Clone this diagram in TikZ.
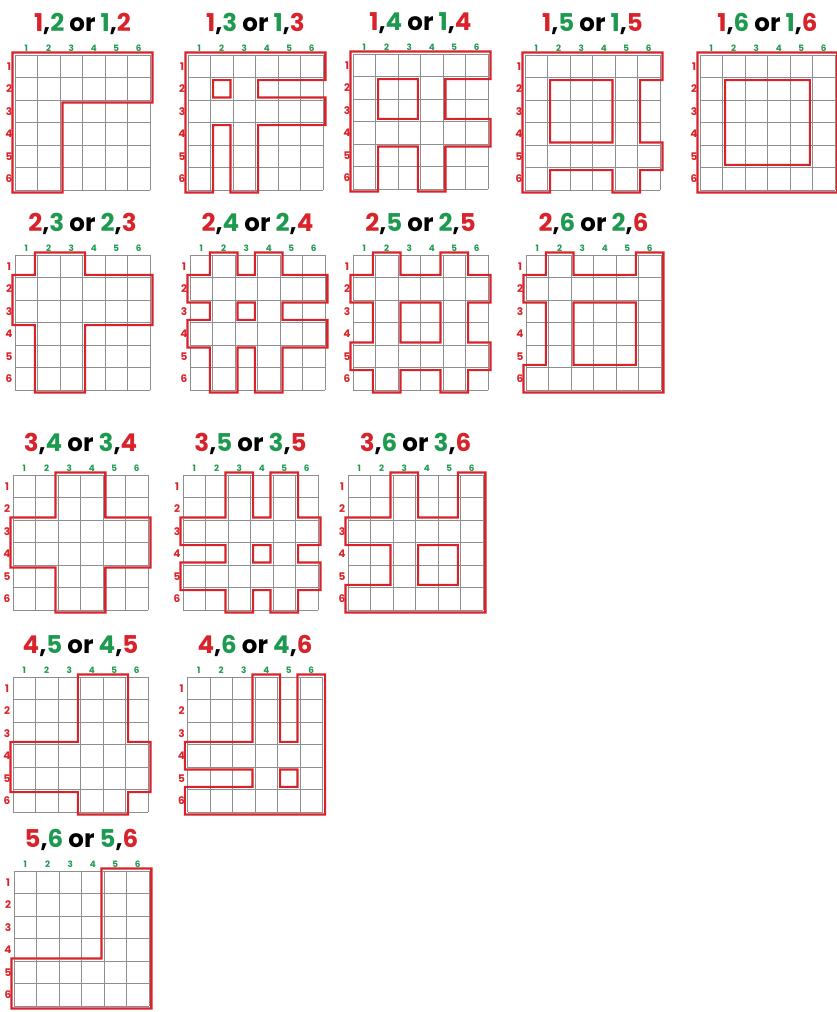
\documentclass[tikz,border=0pt]{standalone}
\usepackage{fontspec}
\setmainfont{Poppins}
\newfontfamily\tfont{Poppins}
\definecolor{pr}{HTML}{D9232A}
\definecolor{pg}{HTML}{1E9A50}
\definecolor{gl}{HTML}{8E8E8E}
\tikzset{
  gridline/.style={draw=gl, line width=0.8pt},
  titletext/.style={font=\tfont\bfseries\fontsize{24.5}{24.5}\selectfont, inner sep=0pt, anchor=center},
  collabel/.style={font=\tfont\bfseries\fontsize{8.8}{9}\selectfont, text=pg, inner sep=0pt},
  rowlabel/.style={font=\tfont\bfseries\fontsize{10.5}{10.5}\selectfont, text=pr, inner sep=0pt},
}
\newcommand\gridlines[2]{%
  \foreach \i in {0,...,6}{
    \draw[gridline] ({#1+\i*22.5},#2) -- ({#1+\i*22.5},{#2+135});
    \draw[gridline] (#1,{#2+\i*22.5}) -- ({#1+135},{#2+\i*22.5});
  }}
\newcommand\stripfill[6]{%
  \fill[#6] ({#1-#5},{#2+(#3-1)*22.5-#5}) rectangle ({#1+135+#5},{#2+#3*22.5+#5})
            ({#1-#5},{#2+(#4-1)*22.5-#5}) rectangle ({#1+135+#5},{#2+#4*22.5+#5})
            ({#1+(#3-1)*22.5-#5},{#2-#5}) rectangle ({#1+#3*22.5+#5},{#2+135+#5})
            ({#1+(#4-1)*22.5-#5},{#2-#5}) rectangle ({#1+#4*22.5+#5},{#2+135+#5});}
\newcommand\stripclip[5]{%
  \clip ({#1-#5},{#2+(#3-1)*22.5-#5}) rectangle ({#1+135+#5},{#2+#3*22.5+#5})
            ({#1-#5},{#2+(#4-1)*22.5-#5}) rectangle ({#1+135+#5},{#2+#4*22.5+#5})
            ({#1+(#3-1)*22.5-#5},{#2-#5}) rectangle ({#1+#3*22.5+#5},{#2+135+#5})
            ({#1+(#4-1)*22.5-#5},{#2-#5}) rectangle ({#1+#4*22.5+#5},{#2+135+#5});}
\newcommand\panel[5]{%
  \gridlines{#1}{#2}
  \stripfill{#1}{#2}{#3}{#4}{3.7}{pr}
  \begin{scope}
    \stripclip{#1}{#2}{#3}{#4}{1.3}
    \stripfill{#1}{#2}{#3}{#4}{1.3}{white}
    \gridlines{#1}{#2}
  \end{scope}
  \node[titletext] (title#5) at ({#1+67.5},{#2-31}) {\textcolor{pr}{#3},\textcolor{pg}{#4} or \textcolor{pg}{#3},\textcolor{pr}{#4}};
  \foreach \k in {1,...,6}{
    \node[collabel] (c#5-\k) at ({#1+(\k-0.5)*22.5},{#2-7}) {\k};
    \node[rowlabel] (r#5-\k) at ({#1-6},{#2+(\k-0.5)*22.5}) {\k};
  }}
\begin{document}
\begin{tikzpicture}[x=1pt,y=-1pt]
\useasboundingbox (0,0) rectangle (836,1012);
\fill[white] (0,0) rectangle (836,1012);
\panel{15}{55}{1}{2}{12}
\panel{188}{55}{1}{3}{13}
\panel{353}{54}{1}{4}{14}
\panel{525}{55}{1}{5}{15}
\panel{700}{55}{1}{6}{16}
\panel{15}{255}{2}{3}{23}
\panel{190}{255}{2}{4}{24}
\panel{353}{255}{2}{5}{25}
\panel{526}{255}{2}{6}{26}
\panel{13}{475}{3}{4}{34}
\panel{183}{475}{3}{5}{35}
\panel{348}{475}{3}{6}{36}
\panel{13}{677}{4}{5}{45}
\panel{187.5}{677}{4}{6}{46}
\panel{14}{871}{5}{6}{56}
\end{tikzpicture}
\end{document}
